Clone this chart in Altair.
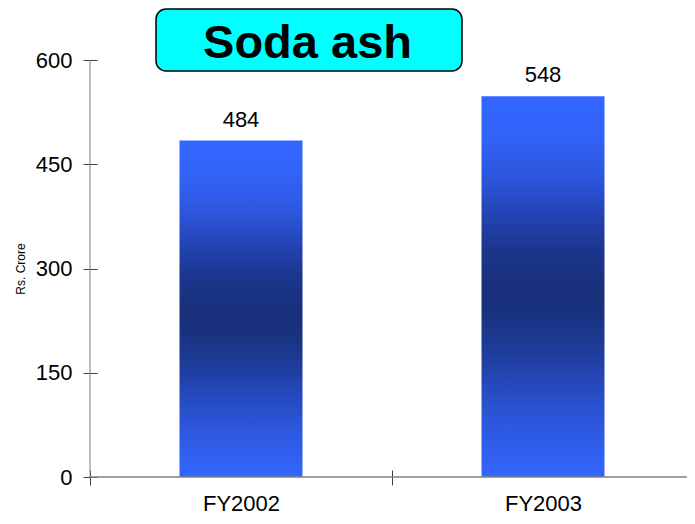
import altair as alt
import pandas as pd

categories = ["FY2002", "FY2003"]
values = [484, 548]
y_ticks = [0, 150, 300, 450, 600]
title_text = ["Soda ash"]
y_title = "Rs. Crore"

FONT = "Liberation Sans"
W, H = 597, 417

df = pd.DataFrame({"year": categories, "value": values})

xscale = alt.Scale(domain=categories, range=[0, 604], paddingInner=0, paddingOuter=0)
yscale = alt.Scale(domain=[0, 600], nice=False, zero=True)

grad = alt.Gradient(
    gradient="linear",
    x1=0, x2=0, y1=0, y2=1,
    stops=[
        alt.GradientStop(color="#3366FF", offset=0),
        alt.GradientStop(color="#3264FA", offset=0.1),
        alt.GradientStop(color="#2C55DA", offset=0.22),
        alt.GradientStop(color="#2242B0", offset=0.32),
        alt.GradientStop(color="#1C3690", offset=0.4),
        alt.GradientStop(color="#18307A", offset=0.5),
        alt.GradientStop(color="#18317C", offset=0.56),
        alt.GradientStop(color="#1E3B98", offset=0.66),
        alt.GradientStop(color="#2649BE", offset=0.76),
        alt.GradientStop(color="#2D58DD", offset=0.86),
        alt.GradientStop(color="#3366FF", offset=1),
    ],
)

x_axis = alt.Axis(title=None, offset=-7, tickSize=15, domain=False,
                  tickBand="extent", labelPadding=8, labelFontSize=22,
                  labelFont=FONT, labelColor="black", tickColor="#404040",
                  labelAngle=0, grid=False)
y_axis = alt.Axis(values=y_ticks, title=y_title, offset=-7, tickSize=14,
                  domain=False, labelPadding=11, labelFontSize=22,
                  labelFont=FONT, labelColor="black", tickColor="#404040",
                  titleFont=FONT, titleFontSize=12, titleFontWeight="normal",
                  titleColor="black", titlePadding=8, grid=False)

base = alt.Chart(df)

bars = base.mark_bar(color=grad, size=123).encode(
    x=alt.X("year:N", scale=xscale, sort=categories, axis=x_axis),
    y=alt.Y("value:Q", scale=yscale, axis=y_axis),
)

labels = base.mark_text(dy=-14, baseline="alphabetic", fontSize=22, font=FONT,
                        color="black").encode(
    x=alt.X("year:N", scale=xscale, sort=categories, axis=x_axis),
    y=alt.Y("value:Q", scale=yscale, axis=y_axis),
    text=alt.Text("value:Q"),
)

deco = alt.Chart(pd.DataFrame({"t": title_text}))

y_domain = deco.mark_rule(color="#808080", strokeWidth=1).encode(
    x=alt.value(0), y=alt.value(0), y2=alt.value(H))
x_domain = deco.mark_rule(color="#808080", strokeWidth=1.5).encode(
    x=alt.value(0), x2=alt.value(604), y=alt.value(H))

box = deco.mark_rect(fill="#00FFFF", stroke="black", strokeWidth=1.5,
                     cornerRadius=10).encode(
    x=alt.value(66), x2=alt.value(372), y=alt.value(-51), y2=alt.value(11))
title = deco.mark_text(fontSize=47, fontWeight="bold", font=FONT, color="black",
                       align="center", baseline="alphabetic").encode(
    x=alt.value(217.5), y=alt.value(-2), text="t:N")

chart = alt.layer(bars, labels, x_domain, y_domain, box, title).properties(
    width=W, height=H,
    autosize=alt.AutoSizeParams(type="none"),
    padding={"left": 82, "top": 52, "right": 0, "bottom": 39},
    view=alt.ViewBackground(strokeOpacity=0, strokeWidth=0),
).configure_view(
    strokeOpacity=0, strokeWidth=0
).configure_axis(grid=False).configure(background="white")

chart.save("out.html", embed_options={"renderer": "svg", "actions": False})
